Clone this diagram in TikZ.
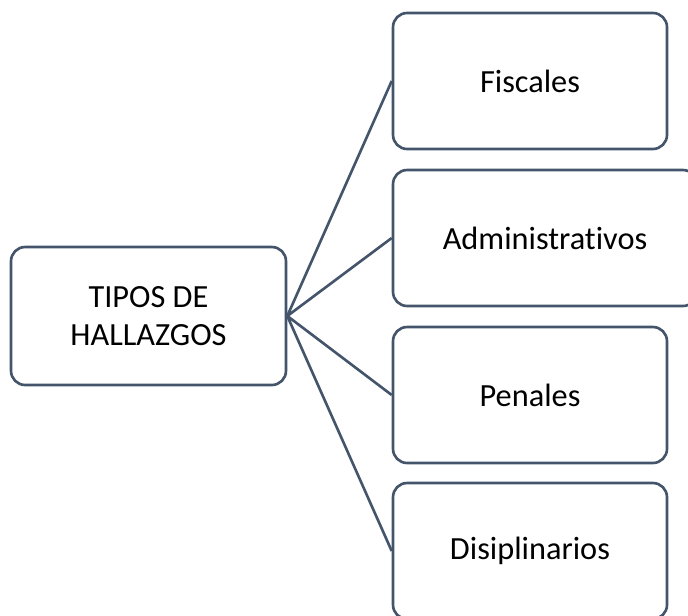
\documentclass[tikz,border=0pt]{standalone}
\usepackage{fontspec}
\setmainfont[Ligatures=NoCommon]{Carlito}
\usepackage{tikz}
\usetikzlibrary{calc}
\definecolor{pizarra}{HTML}{44546A}

\begin{document}
\begin{tikzpicture}[x=0.02cm,y=-0.02cm,
            caja/.style={draw=pizarra,line width=1.5pt,rounded corners=8pt,minimum width=5.48cm,minimum height=2.72cm,align=center,font=\fontsize{18.4}{21.5}\selectfont,inner sep=0pt},
            rama/.style={draw=pizarra,line width=1.5pt}]
            \useasboundingbox (0,0) rectangle (688,615);
            \node[caja,minimum width=5.5cm,minimum height=2.76cm] (tipos) at (148.5,316) {TIPOS DE\\HALLAZGOS};
            \node[caja] (fiscales) at (530,81) {Fiscales};
            \node[caja,minimum width=6.08cm] (admin) at (545,238) {Administrativos};
            \node[caja] (penales) at (530,395) {Penales};
            \node[caja] (disci) at (530,551) {Disiplinarios};
            \draw[rama] (tipos.east) -- (fiscales.west) (tipos.east) -- (admin.west) (tipos.east) -- (penales.west) (tipos.east) -- (disci.west);
        \end{tikzpicture}
\end{document}
